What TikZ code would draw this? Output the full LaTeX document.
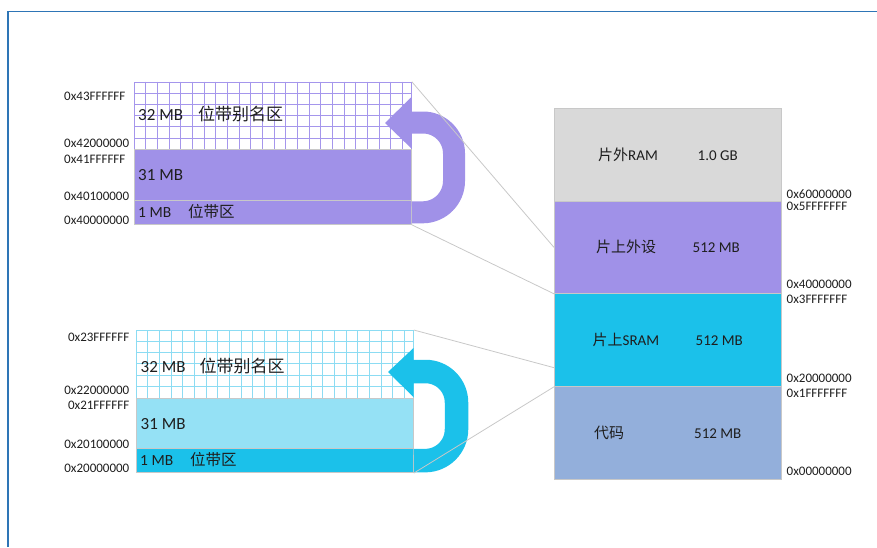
\documentclass[tikz,border=0pt]{standalone}
\usepackage{fontspec}
\setmainfont{Carlito}
\newfontfamily\cjk{Noto Sans CJK SC}
\usetikzlibrary{calc}
\definecolor{purp}{RGB}{160,145,232}
\definecolor{purpgrid}{RGB}{165,150,236}
\definecolor{cyanA}{RGB}{27,193,234}
\definecolor{cyanL}{RGB}{149,225,245}
\definecolor{cyangrid}{RGB}{140,220,243}
\definecolor{codeblue}{RGB}{147,175,219}
\definecolor{ramgray}{RGB}{217,217,217}
\definecolor{edgegray}{RGB}{200,200,200}
\definecolor{framebl}{RGB}{46,117,182}
\definecolor{txt}{RGB}{30,30,30}
\begin{document}
\begin{tikzpicture}[x=1pt,y=-1pt,
  blk/.style={rectangle,draw=edgegray,line width=0.8pt,inner sep=0pt,anchor=north west},
  hexl/.style={inner sep=0pt,anchor=base west,text=txt,font=\fontsize{13}{15}\selectfont},
  hexr/.style={inner sep=0pt,anchor=base east,text=txt,font=\fontsize{13}{15}\selectfont},
  big/.style={inner sep=0pt,anchor=base west,text=txt,font=\fontsize{17}{20}\selectfont},
  mid/.style={inner sep=0pt,anchor=base west,text=txt,font=\fontsize{15.5}{18}\selectfont},
  rt/.style={inner sep=0pt,anchor=base west,text=txt,font=\fontsize{15}{18}\selectfont},
  conn/.style={draw=edgegray,line width=0.8pt},
  uarrow/.style={line width=#1,rounded corners=31pt}
]
\useasboundingbox (0,0) rectangle (877,547);
% frame
\draw[framebl,line width=1.3pt] (8,547) -- (8,11.5) -- (877,11.5);

% ---------- upper bit-band (peripheral) ----------
\node[blk,draw=purpgrid,fill=white,minimum width=277pt,minimum height=67.6pt] (pg) at (134,81.7) {};
\foreach \i in {1,...,23} \draw[purpgrid,line width=0.9pt] (134+\i*11.67,81.7) -- (134+\i*11.67,149.3);
\foreach \j in {1,...,5} \draw[purpgrid,line width=0.9pt] (134,81.7+\j*11.27) -- (411,81.7+\j*11.27);
\node[blk,fill=purp,minimum width=277pt,minimum height=50.7pt] (p31) at (134,149.3) {};
\node[blk,fill=purp,minimum width=277pt,minimum height=24pt] (p1) at (134,200) {};
% U arrow
\draw[purp,uarrow=22pt] (p1.east) -- (454,212) -- (454,122.5) -- (411,122.5);
\fill[purp] (411.5,97) -- (385,123) -- (411.5,148.5) -- cycle;

% ---------- lower bit-band (SRAM) ----------
\node[blk,draw=cyangrid,fill=white,minimum width=277pt,minimum height=67.7pt] (sg) at (136,330) {};
\foreach \i in {1,...,23} \draw[cyangrid,line width=0.9pt] (136+\i*11.67,330) -- (136+\i*11.67,397.7);
\foreach \j in {1,...,5} \draw[cyangrid,line width=0.9pt] (136,330+\j*11.28) -- (413,330+\j*11.28);
\node[blk,fill=cyanL,minimum width=277pt,minimum height=50.6pt] (s31) at (136,397.7) {};
\node[blk,fill=cyanA,minimum width=277pt,minimum height=24pt] (s1) at (136,448.3) {};
\draw[cyanA,uarrow=23.5pt] (s1.east) -- (456.5,460.3) -- (456.5,371.5) -- (413,371.5);
\fill[cyanA] (413.5,348) -- (388,372) -- (413.5,397) -- cycle;

% ---------- memory map ----------
\node[blk,fill=ramgray,minimum width=227pt,minimum height=93pt] (ram) at (554,108) {};
\node[blk,fill=purp,minimum width=227pt,minimum height=92pt] (peri) at (554,201) {};
\node[blk,fill=cyanA,minimum width=227pt,minimum height=93pt] (sram) at (554,293) {};
\node[blk,fill=codeblue,minimum width=227pt,minimum height=93pt] (code) at (554,386) {};

% connectors
\coordinate (sramhit) at ($(sram.south west)!0.204!(sram.north west)$);
\draw[conn] (pg.north east) -- (peri.west);
\draw[conn] (p1.south east) -- (peri.south west);
\draw[conn] (sg.north east) -- (sramhit);
\draw[conn] (s1.south east) -- (sram.south west);

% ---------- texts upper ----------
\node[big] (pa) at (138,120.7) {32 MB};
\node[big] (pb) at (198,120.7) {\cjk 位带别名区};
\node[big] (pc) at (138,180) {31 MB};
\node[mid] (pd) at (138,217.3) {1 MB};
\node[mid] (pe) at (188,217.3) {\cjk 位带区};
\node[hexl] (h1) at (64,100.7) {0x43FFFFFF};
\node[hexl] (h2) at (64,147.7) {0x42000000};
\node[hexl] (h3) at (64,163.3) {0x41FFFFFF};
\node[hexl] (h4) at (64,200.7) {0x40100000};
\node[hexl] (h5) at (64,224) {0x40000000};

% ---------- texts lower ----------
\node[big] (sa) at (140.5,372.3) {32 MB};
\node[big] (sb) at (199.5,372.3) {\cjk 位带别名区};
\node[big] (sc) at (140.5,429) {31 MB};
\node[mid] (sd) at (140,465.7) {1 MB};
\node[mid] (se) at (190,465.7) {\cjk 位带区};
\node[hexr] (k1) at (129.5,341) {0x23FFFFFF};
\node[hexr] (k2) at (129.5,394.3) {0x22000000};
\node[hexr] (k3) at (129.5,409) {0x21FFFFFF};
\node[hexr] (k4) at (129.5,448.3) {0x20100000};
\node[hexr] (k5) at (129.5,472.7) {0x20000000};

% ---------- texts memory map ----------
\node[rt] (ra) at (598,160) {{\cjk 片外}RAM};
\node[rt] (rb) at (697.5,160) {1.0 GB};
\node[rt] (rc) at (596,252.3) {\cjk 片上外设};
\node[rt] (rd) at (692.5,252.3) {512 MB};
\node[rt] (re) at (592.5,345) {{\cjk 片上}SRAM};
\node[rt] (rf) at (695.5,345) {512 MB};
\node[rt] (rg) at (594,438.3) {\cjk 代码};
\node[rt] (rh) at (694,438.3) {512 MB};
\node[hexl] (m1) at (786.5,198.3) {0x60000000};
\node[hexl] (m2) at (786.5,210) {0x5FFFFFFF};
\node[hexl] (m3) at (786.5,288.3) {0x40000000};
\node[hexl] (m4) at (786.5,303.3) {0x3FFFFFFF};
\node[hexl] (m5) at (786.5,382.7) {0x20000000};
\node[hexl] (m6) at (786.5,397.7) {0x1FFFFFFF};
\node[hexl] (m7) at (786.5,475) {0x00000000};
\end{tikzpicture}
\end{document}
